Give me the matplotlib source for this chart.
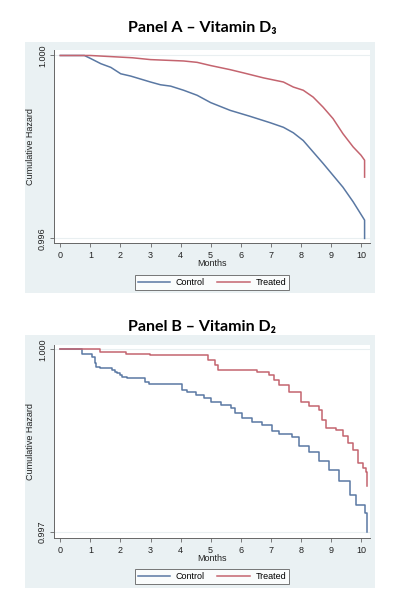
import matplotlib
matplotlib.use('Agg')
import matplotlib.pyplot as plt
from matplotlib.patches import Rectangle

# Panel A - Vitamin D3
months_a_ctrl = [0, 0.8, 1.02, 1.35, 1.68, 2.01, 2.34, 3.0, 3.33, 3.67, 4.1, 4.55, 5.0,
                 5.65, 6.31, 6.98, 7.42, 7.75, 8.08, 8.41, 8.74, 9.07, 9.4, 9.74, 10.12, 10.12]
haz_a_ctrl = [1.0, 1.0, 0.99993, 0.99982, 0.99974, 0.9996, 0.99955, 0.99942, 0.99936, 0.99933,
              0.99924, 0.99913, 0.99897, 0.9988, 0.99867, 0.99853, 0.99843, 0.99831, 0.99814,
              0.99789, 0.99764, 0.99738, 0.99712, 0.9968, 0.9964, 0.996]
months_a_trt = [0, 1.0, 2.4, 3.0, 4.1, 4.55, 5.0, 5.65, 6.09, 6.76, 7.42, 7.75, 8.08, 8.41,
                8.74, 9.07, 9.4, 9.74, 10.0, 10.12, 10.12]
haz_a_trt = [1.0, 1.0, 0.99995, 0.99991, 0.99988, 0.99985, 0.99978, 0.99969, 0.99962, 0.99951,
             0.99942, 0.99931, 0.99924, 0.99909, 0.99887, 0.99862, 0.99829, 0.998, 0.99782,
             0.99771, 0.99734]

# Panel B - Vitamin D2 (step times and value after each step)
months_b_ctrl = [0, 0.72, 1.07, 1.14, 1.2, 1.31, 1.71, 1.82, 1.88, 2.0, 2.04, 2.23, 2.82, 2.94,
                 4.06, 4.23, 4.51, 4.79, 5.02, 5.35, 5.69, 5.8, 6.03, 6.36, 6.70, 7.04, 7.26,
                 7.71, 7.94, 8.27, 8.61, 8.95, 9.28, 9.62, 9.84, 10.12, 10.2, 10.2]
haz_b_ctrl = [1.0, 0.99993, 0.99988, 0.99977, 0.99971, 0.99969, 0.99966, 0.99963, 0.99961,
              0.99958, 0.99955, 0.99952, 0.99947, 0.99943, 0.99933, 0.99929, 0.99925, 0.9992,
              0.99914, 0.99909, 0.99903, 0.99895, 0.99887, 0.99881, 0.99876, 0.99865, 0.9986,
              0.99856, 0.99841, 0.99832, 0.99816, 0.99802, 0.99783, 0.99761, 0.99745, 0.99731,
              0.9972, 0.997]
months_b_trt = [0, 1.31, 2.19, 2.98, 4.91, 5.13, 5.24, 6.53, 6.93, 7.1, 7.26, 7.6, 7.99, 8.27,
                8.61, 8.72, 8.84, 9.17, 9.4, 9.56, 9.73, 9.9, 10.07, 10.18, 10.2, 10.2]
haz_b_trt = [1.0, 0.99996, 0.99992, 0.9999, 0.99982, 0.99974, 0.99966, 0.99962, 0.99958,
             0.9995, 0.99941, 0.9993, 0.99914, 0.99906, 0.99901, 0.99884, 0.9987, 0.99868,
             0.99857, 0.99846, 0.99835, 0.99813, 0.99805, 0.99799, 0.99799, 0.99775]

titles = ['Panel A \u2013 Vitamin D\u2083', 'Panel B \u2013 Vitamin D\u2082']
yticks_a = [0.996, 1.000]
yticks_b = [0.997, 1.000]
xticks = list(range(0, 11))
series_labels = ['Control', 'Treated']

ctrl_color = '#5a78a3'
trt_color = '#c4646f'
bg_color = '#eaf1f3'
W, H = 396, 602

plt.rcParams['font.family'] = ['Liberation Sans', 'DejaVu Sans']
fig = plt.figure(figsize=(W / 100, H / 100), dpi=100)
fig.patch.set_facecolor('white')


def px_box(x0, y0, x1, y1):
    # pixel box (top-left origin) -> figure fraction [left, bottom, width, height]
    return [x0 / W, 1 - y1 / H, (x1 - x0) / W, (y1 - y0) / H]


panels = [
    dict(title_y=28, box=(25, 42, 375, 293), ax=(54, 50, 370, 243), leg_y=282.5,
         ylim=(0.9959, 1.00012), yticks=yticks_a, steps=False,
         ctrl=(months_a_ctrl, haz_a_ctrl), trt=(months_a_trt, haz_a_trt)),
    dict(title_y=327, box=(25, 335, 375, 588), ax=(54, 345, 370, 538), leg_y=576.5,
         ylim=(0.9969, 1.00007), yticks=yticks_b, steps=True,
         ctrl=(months_b_ctrl, haz_b_ctrl), trt=(months_b_trt, haz_b_trt)),
]

for p, title in zip(panels, titles):
    fig.text(202 / W, 1 - p['title_y'] / H, title, ha='center', va='center',
             fontsize=11.5, fontweight='bold', family=['Lato', 'DejaVu Sans'])

    bx = px_box(*p['box'])
    fig.add_artist(Rectangle((bx[0], bx[1]), bx[2], bx[3], transform=fig.transFigure,
                             facecolor=bg_color, edgecolor='none', zorder=-5))

    ax = fig.add_axes(px_box(*p['ax']))
    ax.set_facecolor('white')
    ds = 'steps-post' if p['steps'] else 'default'
    ax.plot(*p['ctrl'], color=ctrl_color, lw=1.1, drawstyle=ds, label=series_labels[0])
    ax.plot(*p['trt'], color=trt_color, lw=1.1, drawstyle=ds, label=series_labels[1])

    ax.set_xlim(-0.21, 10.3)
    ax.set_ylim(*p['ylim'])
    ax.set_xticks(xticks)
    ax.set_yticks(p['yticks'])
    ax.set_yticklabels(['{:.3f}'.format(v) for v in p['yticks']], rotation=90, va='center')
    ax.tick_params(axis='both', labelsize=6.5, length=3, width=0.6, color='#666666',
                   labelcolor='#222222')
    ax.tick_params(axis='x', pad=3)
    ax.tick_params(axis='y', pad=2)
    ax.grid(axis='y', color='#e9eff1', lw=0.8)
    ax.set_axisbelow(True)
    for s in ['top', 'right']:
        ax.spines[s].set_visible(False)
    for s in ['left', 'bottom']:
        ax.spines[s].set_color('#666666')
        ax.spines[s].set_linewidth(0.7)

    ax.set_xlabel('Months', fontsize=6.5, labelpad=-1, color='#222222')
    ax.set_ylabel('Cumulative Hazard', fontsize=6.5, labelpad=2, color='#222222')

    leg = ax.legend(loc='center', bbox_to_anchor=(212 / W, 1 - p['leg_y'] / H),
                    bbox_transform=fig.transFigure, ncol=2, fontsize=6.5, frameon=True,
                    fancybox=False, edgecolor='#555555', handlelength=3.6,
                    columnspacing=1.4, borderpad=0.35, handletextpad=0.6)
    leg.get_frame().set_linewidth(0.7)

plt.savefig('out.png', dpi=100)
